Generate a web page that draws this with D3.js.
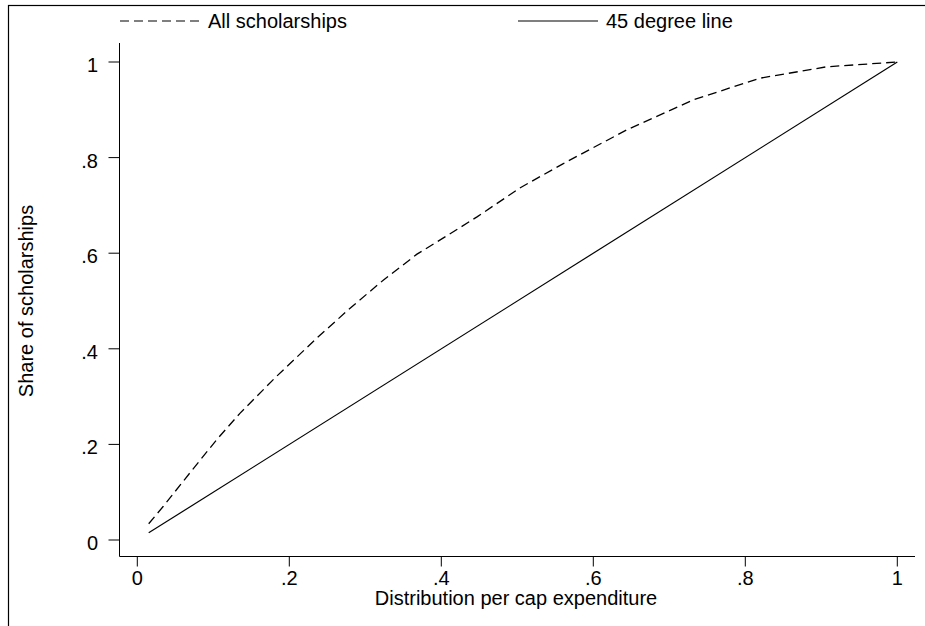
<!DOCTYPE html>
<html>
<head>
<meta charset="utf-8">
<script src="https://cdn.jsdelivr.net/npm/d3@7"></script>
<style>
  html, body { margin: 0; padding: 0; background: #fff; }
  text { font-family: "Liberation Sans", Arial, Helvetica, sans-serif; fill: #000; }
</style>
</head>
<body>
<script>
// Concentration curve: cumulative share of scholarships by per-capita expenditure
const popShare = [0.015, 0.034, 0.069, 0.104, 0.135, 0.183, 0.236, 0.28, 0.324, 0.368, 0.411, 0.447, 0.504, 0.56, 0.644, 0.732, 0.819, 0.907, 1.0];
const scholarshipShare = [0.034, 0.070, 0.140, 0.209, 0.265, 0.342, 0.422, 0.485, 0.544, 0.598, 0.640, 0.676, 0.737, 0.787, 0.858, 0.921, 0.966, 0.990, 1.0];
const diagonal = [0.015, 1.0];

const xTicks = [0, 0.2, 0.4, 0.6, 0.8, 1];
const yTicks = [0, 0.2, 0.4, 0.6, 0.8, 1];
const fmt = v => v === 0 ? "0" : v === 1 ? "1" : String(v).replace(/^0/, "");

const seriesNames = ["All scholarships", "45 degree line"];
const xTitle = "Distribution per cap expenditure";
const yTitle = "Share of scholarships";

const W = 925, H = 626;
const svg = d3.select("body").append("svg").attr("width", W).attr("height", H);

// outer frame
svg.append("rect").attr("x", 8.5).attr("y", 5.5).attr("width", 1000).attr("height", 1000)
  .attr("fill", "none").attr("stroke", "#000").attr("stroke-width", 1.2);

const x = d3.scaleLinear().domain([0, 1]).range([137.3, 897.3]);
const y = d3.scaleLinear().domain([0, 1]).range([540, 62]);

const axisLeftX = 119.5, axisBottomY = 556.5;

// axis lines
svg.append("line").attr("x1", axisLeftX).attr("x2", axisLeftX).attr("y1", 43).attr("y2", axisBottomY)
  .attr("stroke", "#000").attr("stroke-width", 1);
svg.append("line").attr("x1", axisLeftX).attr("x2", 915).attr("y1", axisBottomY).attr("y2", axisBottomY)
  .attr("stroke", "#000").attr("stroke-width", 1);

// x ticks
const xg = svg.append("g");
xTicks.forEach(t => {
  xg.append("line").attr("x1", x(t)).attr("x2", x(t)).attr("y1", axisBottomY).attr("y2", axisBottomY + 10)
    .attr("stroke", "#000").attr("stroke-width", 1);
  xg.append("text").attr("x", x(t)).attr("y", 585).attr("text-anchor", "middle")
    .attr("font-size", 20).text(fmt(t));
});

// y ticks
const yg = svg.append("g");
yTicks.forEach(t => {
  yg.append("line").attr("x1", axisLeftX - 11).attr("x2", axisLeftX).attr("y1", y(t)).attr("y2", y(t))
    .attr("stroke", "#000").attr("stroke-width", 1);
  yg.append("text").attr("x", 98).attr("y", y(t) + 10).attr("text-anchor", "end")
    .attr("font-size", 20).text(fmt(t));
});

// axis titles
svg.append("text").attr("x", 516).attr("y", 605).attr("text-anchor", "middle")
  .attr("font-size", 20).text(xTitle);
svg.append("text").attr("transform", "translate(33,301) rotate(-90)").attr("text-anchor", "middle")
  .attr("font-size", 20).text(yTitle);

const line = d3.line().x(d => x(d[0])).y(d => y(d[1]));

// series
svg.append("path").datum(d3.zip(popShare, scholarshipShare)).attr("d", line)
  .attr("fill", "none").attr("stroke", "#000").attr("stroke-width", 1.3)
  .attr("stroke-dasharray", "9,5");
svg.append("path").datum(d3.zip(diagonal, diagonal)).attr("d", line)
  .attr("fill", "none").attr("stroke", "#000").attr("stroke-width", 1.2);

// legend
const legend = [
  { name: seriesNames[0], x0: 120, dash: "9,5" },
  { name: seriesNames[1], x0: 518, dash: null }
];
legend.forEach(l => {
  svg.append("line").attr("x1", l.x0).attr("x2", l.x0 + 80).attr("y1", 21).attr("y2", 21)
    .attr("stroke", "#000").attr("stroke-width", 1.2)
    .attr("stroke-dasharray", l.dash);
  svg.append("text").attr("x", l.x0 + 88).attr("y", 27.5).attr("font-size", 20).text(l.name);
});
</script>
</body>
</html>
